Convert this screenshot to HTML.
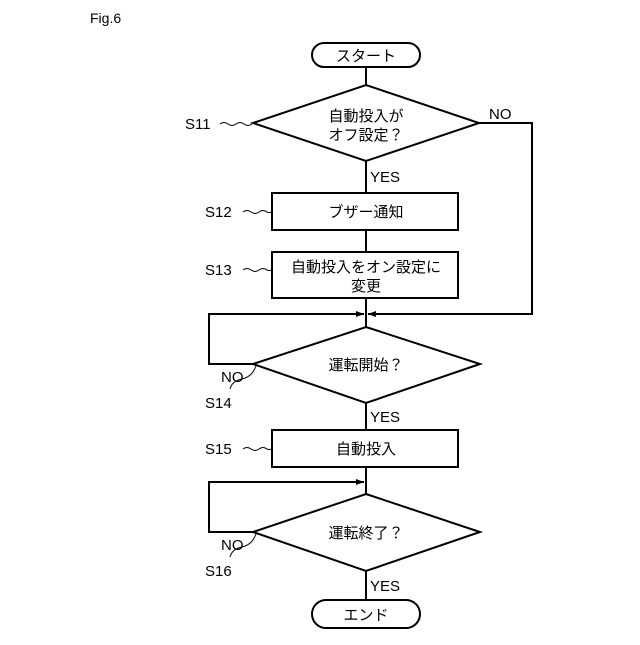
<!DOCTYPE html>
<html><head><meta charset="utf-8"><style>
body{margin:0;background:#fff}
svg text{font-family:"Liberation Sans","Noto Sans CJK JP",sans-serif;fill:#000}
</style></head><body>
<svg width="640" height="640" viewBox="0 0 640 640" xmlns="http://www.w3.org/2000/svg">
<defs><marker id="a" markerWidth="8" markerHeight="6" refX="8" refY="3" orient="auto" markerUnits="userSpaceOnUse"><path d="M0,0 L8,3 L0,6 Z" fill="#000"/></marker></defs>
<g stroke="#000" stroke-width="2" fill="none">
<rect x="312" y="43" width="108" height="24" rx="12"/>
<line x1="366" y1="67" x2="366" y2="85"/>
<polygon points="366,85 479,123 366,161 253,123" fill="#fff"/>
<polyline points="479,123 532,123 532,314 368,314" marker-end="url(#a)"/>
<line x1="366" y1="161" x2="366" y2="193"/>
<rect x="272" y="193" width="186" height="37"/>
<line x1="366" y1="230" x2="366" y2="252"/>
<rect x="272" y="252" width="186" height="46"/>
<line x1="366" y1="298" x2="366" y2="327"/>
<polyline points="253,364 209,364 209,314 364,314" marker-end="url(#a)"/>
<polygon points="366,327 480,364 366,403 253,364" fill="#fff"/>
<line x1="366" y1="403" x2="366" y2="430"/>
<rect x="272" y="430" width="186" height="37"/>
<line x1="366" y1="467" x2="366" y2="494"/>
<polyline points="253,532 209,532 209,482 364,482" marker-end="url(#a)"/>
<polygon points="366,494 480,532 366,571 253,532" fill="#fff"/>
<line x1="366" y1="571" x2="366" y2="600"/>
<rect x="312" y="600" width="108" height="28" rx="14"/>
</g>
<g stroke="#000" stroke-width="1" fill="none">
<path d="M220,124 q4,-3 8,0 q4,3 8,0 q4,-3 8,0 q4,3 8,0"/>
<path d="M243,212 q4,-3 8,0 q4,3 8,0 q4,-3 8,0 q2,1 5,0"/>
<path d="M243,270 q4,-3 8,0 q4,3 8,0 q4,-3 8,0 q2,1 5,0"/>
<path d="M243,449 q4,-3 8,0 q4,3 8,0 q4,-3 8,0 q2,1 5,0"/>
<path d="M230,389 q2,-8 12,-10 q10,-2 14,-13"/>
<path d="M230,557 q2,-8 12,-10 q10,-2 14,-13"/>
</g>
<g font-size="15">
<text x="90" y="23" font-size="14">Fig.6</text>
<text x="366" y="61" text-anchor="middle">スタート</text>
<text x="366" y="121" text-anchor="middle">自動投入が</text>
<text x="366" y="140" text-anchor="middle">オフ設定？</text>
<text x="489" y="119">NO</text>
<text x="185" y="129">S11</text>
<text x="370" y="182">YES</text>
<text x="366" y="217" text-anchor="middle">ブザー通知</text>
<text x="205" y="217">S12</text>
<text x="366" y="272" text-anchor="middle">自動投入をオン設定に</text>
<text x="366" y="291" text-anchor="middle">変更</text>
<text x="205" y="275">S13</text>
<text x="366" y="370" text-anchor="middle">運転開始？</text>
<text x="221" y="382">NO</text>
<text x="205" y="408">S14</text>
<text x="370" y="422">YES</text>
<text x="366" y="454" text-anchor="middle">自動投入</text>
<text x="205" y="454">S15</text>
<text x="366" y="538" text-anchor="middle">運転終了？</text>
<text x="221" y="550">NO</text>
<text x="205" y="576">S16</text>
<text x="370" y="591">YES</text>
<text x="366" y="620" text-anchor="middle">エンド</text>
</g>
</svg>
</body></html>
